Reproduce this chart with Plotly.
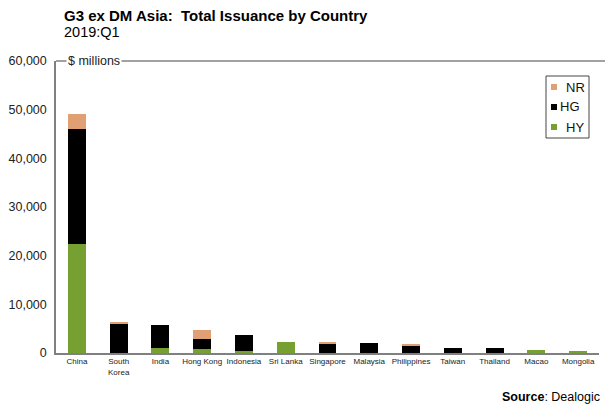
import plotly.graph_objects as go

countries = ["China", "South<br>Korea", "India", "Hong Kong", "Indonesia", "Sri Lanka",
             "Singapore", "Malaysia", "Philippines", "Taiwan", "Thailand", "Macao", "Mongolia"]
hy = [22300, 0, 1100, 900, 400, 2250, 0, 0, 0, 0, 0, 650, 250]
hg = [23800, 6000, 4600, 2050, 3300, 0, 1900, 2000, 1500, 1100, 1100, 0, 0]
nr = [3100, 300, 0, 1850, 0, 0, 350, 0, 450, 0, 0, 0, 0]
series_names = ["HY", "HG", "NR"]
series_colors = ["#77A033", "#000000", "#E1A073"]

FONT = "Liberation Sans, Arial, sans-serif"
W, H = 605, 408
L, R, T, B = 56, 6, 61, 55
PW, PH = W - L - R, H - T - B


def px(x):
    return (x - L) / PW


def py(y):
    return (H - B - y) / PH


fig = go.Figure()
for name, vals, col in zip(series_names, [hy, hg, nr], series_colors):
    fig.add_trace(go.Bar(x=countries, y=vals, name=name, marker_color=col,
                         marker_line_width=0, width=0.43))

fig.update_layout(
    barmode="stack",
    width=W, height=H,
    margin=dict(l=L, r=R, t=T, b=B, autoexpand=False),
    paper_bgcolor="white", plot_bgcolor="white",
    font=dict(family=FONT, color="#222222"),
    showlegend=False,
    xaxis=dict(showline=True, linecolor="#808080", linewidth=1.5, ticks="",
               tickfont=dict(size=8, color="#222222"), tickangle=0, automargin=False),
    yaxis=dict(range=[0, 60000], dtick=10000, tickformat=",", showgrid=False,
               showline=True, linecolor="#808080", linewidth=1.5, ticks="",
               zeroline=False, tickfont=dict(size=12.5, color="#222222"),
               ticklabelstandoff=5, automargin=False),
)

# top frame line
fig.add_shape(type="line", xref="paper", yref="paper", x0=0, x1=px(605), y0=1, y1=1,
              line=dict(color="#444444", width=1.2))

fig.add_annotation(xref="paper", yref="paper", x=px(66), y=1, xanchor="left", yanchor="middle",
                   text="$ millions", showarrow=False, bgcolor="white",
                   font=dict(size=12.5, color="#222222", family=FONT), borderpad=1)
fig.add_annotation(xref="paper", yref="paper", x=px(62), y=py(15), xanchor="left", yanchor="middle",
                   text="<b>G3 ex DM Asia:  Total Issuance by Country</b>", showarrow=False,
                   font=dict(size=15, color="#000000", family=FONT))
fig.add_annotation(xref="paper", yref="paper", x=px(62), y=py(32), xanchor="left", yanchor="middle",
                   text="2019:Q1", showarrow=False,
                   font=dict(size=14.5, color="#000000", family=FONT))
fig.add_annotation(xref="paper", yref="paper", x=px(602), y=py(397), xanchor="right", yanchor="middle",
                   text="<b>Source</b>: Dealogic", showarrow=False,
                   font=dict(size=12.5, color="#000000", family=FONT))

# legend (drawn manually, compact box)
fig.add_shape(type="rect", xref="paper", yref="paper", x0=px(546), x1=px(589), y0=py(76), y1=py(138),
              line=dict(color="#444444", width=1), fillcolor="white")
leg = [("NR", series_colors[2], 87, 565), ("HG", series_colors[1], 107, 559), ("HY", series_colors[0], 127, 565)]
for name, col, yc, tx in leg:
    fig.add_shape(type="rect", xref="paper", yref="paper", x0=px(551), x1=px(557),
                  y0=py(yc - 3), y1=py(yc + 3), line=dict(width=0), fillcolor=col)
    fig.add_annotation(xref="paper", yref="paper", x=px(tx), y=py(yc), xanchor="left", yanchor="middle",
                       text=name, showarrow=False, borderpad=0,
                       font=dict(size=13, color="#111111", family=FONT))

fig.write_html("out.html", config={"displayModeBar": False},
               post_script="document.body.style.margin='0';document.body.style.overflow='hidden';")
